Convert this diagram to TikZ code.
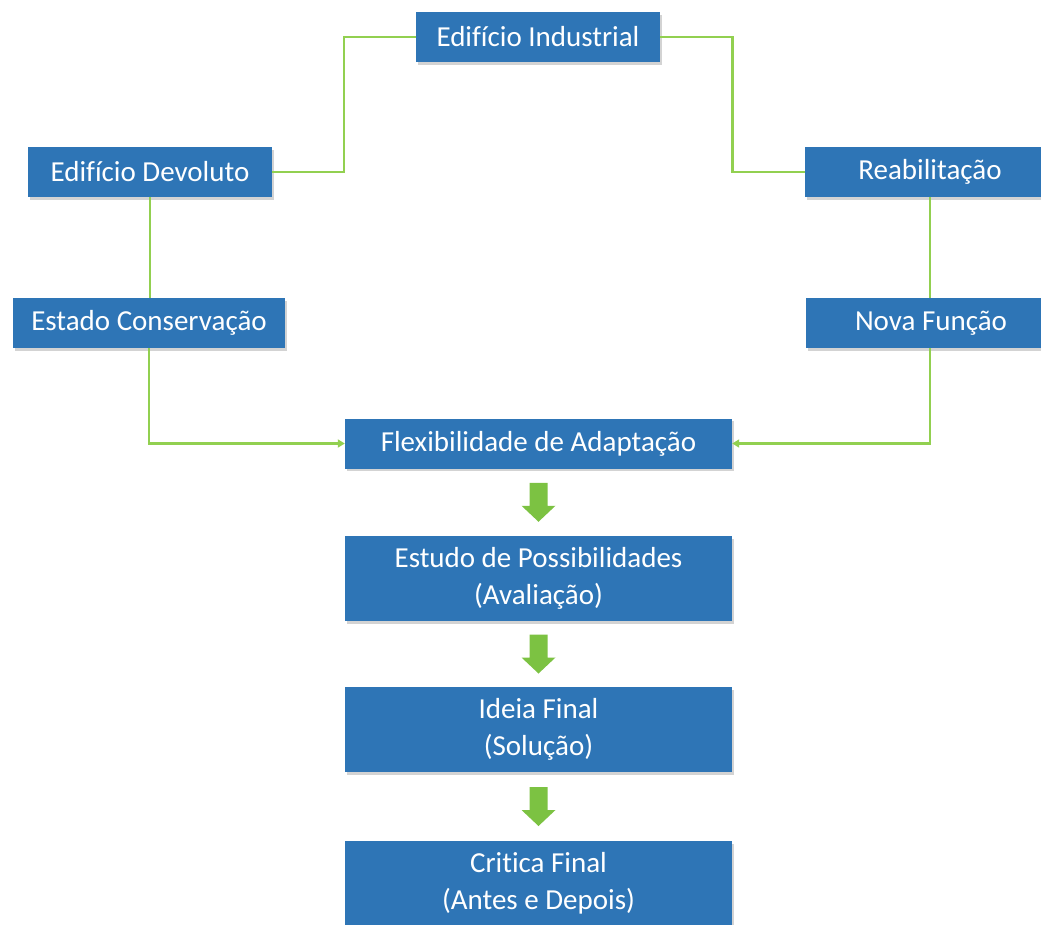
\documentclass[tikz,border=0pt]{standalone}
\usepackage{fontspec}
\setmainfont{Carlito}[Ligatures=NoCommon]
\usetikzlibrary{shadows,arrows.meta,calc}

\definecolor{boxblue}{RGB}{46,117,182}
\definecolor{linkgreen}{RGB}{146,208,80}
\definecolor{flowgreen}{RGB}{124,194,66}

\tikzset{
  box/.style={fill=boxblue, text=white, draw=none, inner sep=0pt,
    minimum height=50pt, align=center,
    font=\fontsize{29}{36.5}\selectfont,
    drop shadow={opacity=0.35, shadow xshift=2pt, shadow yshift=-2.5pt}},
  tallbox/.style={box, minimum height=85pt},
  link/.style={draw=linkgreen, line width=2.6pt},
  linkarrow/.style={link, -{Triangle[length=7pt,width=8pt]}},
  flowarrow/.pic={
    \fill[flowgreen] (-9,-19.5) -- (9,-19.5) -- (9,3.5) -- (17,3.5)
      -- (0,19.5) -- (-17,3.5) -- (-9,3.5) -- cycle;
  }
}

\begin{document}
\begin{tikzpicture}[x=1pt,y=-1pt]
  \useasboundingbox (0,0) rectangle (1041,924);

  % top row
  \node[box, minimum width=244pt] (ind)  at (538,37)  {Edifício Industrial};
  \node[box, minimum width=244pt] (dev)  at (150,172) {Edifício Devoluto};
  \node[box, minimum width=250pt] (reab) at (930,172) {Reabilitação};
  \node[box, minimum width=272pt] (est)  at (149,323) {Estado Conservação};
  \node[box, minimum width=250pt] (nova) at (931,323) {Nova Função};

  % central column
  \node[box, minimum width=387pt]     (flex)    at (538.5,443.5) {Flexibilidade de Adaptação};
  \node[tallbox, minimum width=387pt] (estudo)  at (538.5,578.5) {Estudo de Possibilidades\\(Avaliação)};
  \node[tallbox, minimum width=387pt] (ideia)   at (538.5,729.5) {Ideia Final\\(Solução)};
  \node[tallbox, minimum width=387pt] (critica) at (538.5,883.5) {Critica Final\\(Antes e Depois)};

  % green connectors
  \coordinate (lm) at ($(ind.west)!0.5!(dev.east)$);
  \coordinate (rm) at ($(ind.east)!0.5!(reab.west)$);
  \draw[link] (ind.west) -| (lm) |- (dev.east);
  \draw[link] (ind.east) -| (rm) |- (reab.west);
  \draw[link] (dev.south) -- (dev.south |- est.north);
  \draw[link] (reab.south) -- (reab.south |- nova.north);
  \draw[linkarrow] (est.south) |- (flex.west);
  \draw[linkarrow] (reab.south |- nova.south) |- (flex.east);

  % block arrows between the steps
  \pic at ($(flex.south)!0.5!(estudo.north)$) {flowarrow};
  \pic at ($(estudo.south)!0.5!(ideia.north)$) {flowarrow};
  \pic at ($(ideia.south)!0.5!(critica.north)$) {flowarrow};
\end{tikzpicture}
\end{document}
